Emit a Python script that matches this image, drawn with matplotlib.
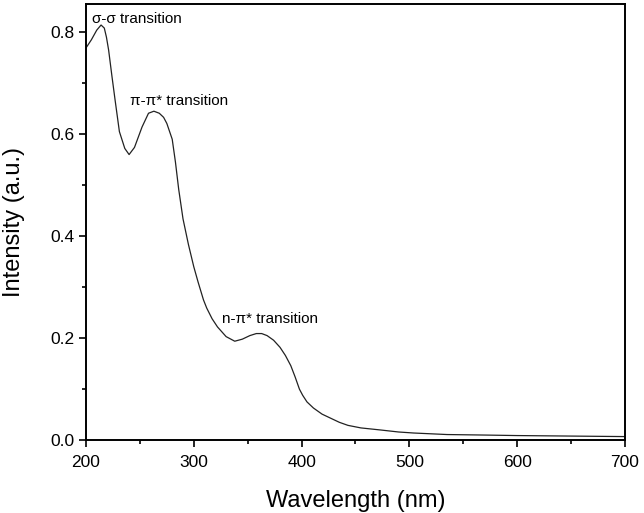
import matplotlib
matplotlib.use('Agg')
import matplotlib.pyplot as plt
from matplotlib.ticker import MultipleLocator

plt.rcParams['font.family'] = ['Liberation Sans', 'DejaVu Sans']

# absorption spectrum
wavelength = [200, 205, 210, 214, 217, 219, 221, 224, 227, 231, 236, 240, 245, 252, 258,
              263, 268, 272, 275, 280, 283, 286, 290, 295, 300, 304, 309, 312, 317,
              322, 330, 338, 345, 352, 358, 363, 368, 374, 380, 385, 390, 394, 398, 401,
              405, 411, 419, 427, 435, 443, 455, 473, 490, 504, 535, 570, 600, 650, 700]
intensity = [0.769, 0.785, 0.804, 0.814, 0.808, 0.790, 0.765, 0.715, 0.667, 0.605, 0.572,
             0.560, 0.574, 0.614, 0.641, 0.645, 0.641, 0.633, 0.621, 0.590, 0.545, 0.492,
             0.434, 0.384, 0.340, 0.310, 0.275, 0.259, 0.238, 0.222, 0.203, 0.194,
             0.198, 0.205, 0.209, 0.209, 0.205, 0.196, 0.182, 0.166, 0.146, 0.124, 0.100,
             0.088, 0.075, 0.063, 0.051, 0.043, 0.035, 0.029, 0.024, 0.020, 0.016, 0.014,
             0.011, 0.010, 0.009, 0.008, 0.007]

labels = ['σ-σ transition', 'π-π* transition', 'n-π* transition']
label_x = [205.5, 241, 326]
label_y = [0.818, 0.657, 0.229]

fig = plt.figure(figsize=(6.44, 5.13), dpi=100)
ax = fig.add_axes([0.1335, 0.142, 0.837, 0.85])

ax.plot(wavelength, intensity, color='#222222', linewidth=0.9)

for txt, x, y in zip(labels, label_x, label_y):
    ax.text(x, y, txt, fontsize=11, ha='left', va='baseline')

ax.set_xlim(200, 700)
ax.set_ylim(0, 0.855)
ax.xaxis.set_major_locator(MultipleLocator(100))
ax.xaxis.set_minor_locator(MultipleLocator(50))
ax.yaxis.set_major_locator(MultipleLocator(0.2))
ax.yaxis.set_minor_locator(MultipleLocator(0.1))
ax.yaxis.set_major_formatter(matplotlib.ticker.FormatStrFormatter('%.1f'))

ax.tick_params(which='both', direction='out', top=False, right=False, width=1.2, labelsize=12.5)
ax.tick_params(which='major', length=5)
ax.tick_params(which='minor', length=3)
ax.tick_params(axis='x', pad=6)
for s in ax.spines.values():
    s.set_linewidth(1.4)

ax.set_xlabel('Wavelength (nm)', fontsize=17, labelpad=14)
ax.set_ylabel('Intensity (a.u.)', fontsize=17, labelpad=18)

fig.savefig('out.png', dpi=100)
